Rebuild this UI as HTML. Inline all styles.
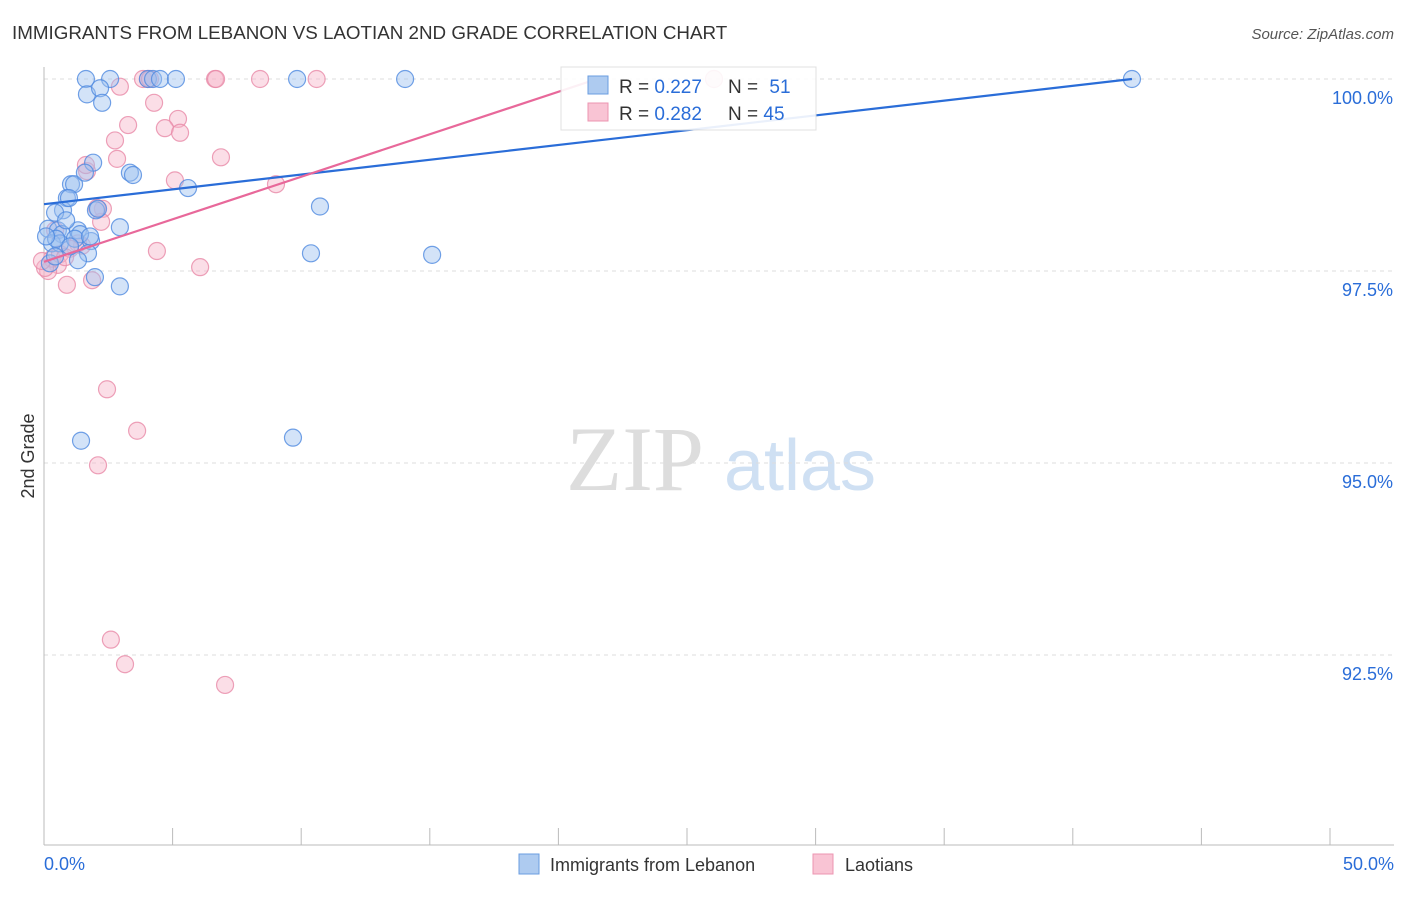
<!DOCTYPE html>
<html><head><meta charset="utf-8"><style>
body{margin:0;background:#fff;font-family:"Liberation Sans",sans-serif}
svg text{font-family:"Liberation Sans",sans-serif}
</style></head><body>
<svg width="1406" height="892">
<text x="12" y="39" font-size="18.8" fill="#333">IMMIGRANTS FROM LEBANON VS LAOTIAN 2ND GRADE CORRELATION CHART</text>
<text x="1394" y="39" font-size="15" fill="#555" text-anchor="end" font-style="italic">Source: ZipAtlas.com</text>
<g>
<text x="635" y="490" font-size="92" fill="#ddd" text-anchor="middle" font-family="Liberation Serif" style="font-family:'Liberation Serif',serif">ZIP</text>
<text x="800" y="490" font-size="72" fill="#cfe0f3" text-anchor="middle">atlas</text>
</g>
<g id="grid"></g>
<g id="axes"></g>
<g id="marks"></g>
<text transform="translate(34,456) rotate(-90)" font-size="18" fill="#333" text-anchor="middle">2nd Grade</text>
<g>
<rect x="561" y="67" width="255" height="63" fill="#fff" stroke="#ddd" opacity="0.9"/>
<rect x="588" y="76" width="20" height="18" fill="#aecbf0" stroke="#6a9de0"/>
<rect x="588" y="103" width="20" height="18" fill="#f9c4d4" stroke="#ec95b1"/>
<text x="619" y="93" font-size="19" fill="#333">R = <tspan fill="#2a6dd8">0.227</tspan></text>
<text x="728" y="93" font-size="19" fill="#333">N = <tspan fill="#2a6dd8" dx="6">51</tspan></text>
<text x="619" y="120" font-size="19" fill="#333">R = <tspan fill="#2a6dd8">0.282</tspan></text>
<text x="728" y="120" font-size="19" fill="#333">N = <tspan fill="#2a6dd8">45</tspan></text>
</g>
<g>
<rect x="519" y="854" width="20" height="20" fill="#aecbf0" stroke="#6a9de0"/>
<text x="550" y="871" font-size="18" fill="#333">Immigrants from Lebanon</text>
<rect x="813" y="854" width="20" height="20" fill="#f9c4d4" stroke="#ec95b1"/>
<text x="845" y="871" font-size="18" fill="#333">Laotians</text>
</g>
<text x="44" y="870" font-size="18" fill="#2a6dd8">0.0%</text>
<text x="1394" y="870" font-size="18" fill="#2a6dd8" text-anchor="end">50.0%</text>
</svg>
<script>
const blueX=[1.63,2.57,4.04,4.24,4.51,5.13,9.84,14.04,42.3,1.67,2.18,2.26,1.91,1.05,1.17,1.59,3.34,3.46,5.6,10.73,0.89,0.74,0.43,2.02,2.1,2.95,0.16,0.54,0.7,0.31,0.62,1.32,1.83,1.71,10.38,15.09,1.32,0.23,0.43,1.98,2.95,1.44,9.68,0.97,1.4,0.86,0.47,1.2,1.79,0.08,1.01];
const blueY=[100,100,100,100,100,100,100,100,100,99.8,99.88,99.69,98.91,98.63,98.63,98.78,98.78,98.75,98.58,98.34,98.45,98.29,98.26,98.29,98.31,98.07,98.05,98.03,97.98,97.86,97.86,98.03,97.89,97.73,97.73,97.71,97.64,97.60,97.69,97.42,97.30,95.29,95.33,98.45,97.98,98.16,97.92,97.92,97.95,97.95,97.82];
const pinkX=[3.85,4.04,4.12,6.65,6.69,8.4,10.6,26.05,2.95,4.28,5.21,4.7,5.29,3.27,2.76,2.84,6.88,1.67,1.63,5.09,9.02,2.29,2.22,1.48,1.32,4.39,6.07,1.87,0.89,0.54,0.16,0.31,0.62,0.04,2.45,3.62,2.1,2.6,3.15,7.04,1.01,2.06,0.43,0.82,-0.08];
const pinkY=[100,100,100,100,100,100,100,100,99.9,99.69,99.48,99.36,99.3,99.4,99.2,98.96,98.98,98.8,98.88,98.68,98.63,98.31,98.14,97.83,97.86,97.76,97.55,97.38,97.32,97.58,97.50,97.66,97.72,97.54,95.96,95.42,94.97,92.70,92.38,92.11,97.79,98.32,98.03,97.68,97.63];
const yTicks=[100,97.5,95,92.5];
const yLabels=["100.0%","97.5%","95.0%","92.5%"];
const blueTrend=[[0,98.37],[42.3,100]];
const pinkTrend=[[0,97.62],[21.5,100]];
const NS="http://www.w3.org/2000/svg";
const xs=v=>44+v/50*1286, ys=v=>79+(100-v)/2.5*192;
function mk(t,a,p){const e=document.createElementNS(NS,t);for(const k in a)e.setAttribute(k,a[k]);p.appendChild(e);return e;}
const grid=document.getElementById('grid'),axes=document.getElementById('axes'),marks=document.getElementById('marks');
yTicks.forEach((t,i)=>{
 const l=mk('line',{x1:44,x2:1394,y1:ys(t),y2:ys(t),stroke:'#ddd','stroke-dasharray':'4,4'},grid);
 
 
 const tx=mk('text',{x:1393,y:ys(t)+25,'font-size':18,fill:'#2a6dd8','text-anchor':'end'},axes);
 tx.textContent=yLabels[i];
 
 
});
const ya=mk('line',{x1:44,x2:44,y1:67,y2:845,stroke:'#bbb'},axes);


const xa=mk('line',{x1:44,x2:1394,y1:845,y2:845,stroke:'#bbb'},axes);


for(let i=0;i<=10;i++){const t=mk('line',{x1:xs(i*5),x2:xs(i*5),y1:828,y2:845,stroke:'#bbb'},axes);
 
 }
function pts(X,Y,fill,stroke,name){X.forEach((x,i)=>{const c=mk('circle',{cx:xs(x),cy:ys(Y[i]),r:8.5,fill:fill,'fill-opacity':0.45,stroke:stroke,'stroke-width':1.2,'stroke-opacity':0.8},marks);
 
 });}
pts(pinkX,pinkY,'#f7b6ca','#e88aa8','laotians-point');
pts(blueX,blueY,'#9dc1ef','#4f8ae0','lebanon-point');
const bl=mk('line',{x1:xs(blueTrend[0][0]),y1:ys(blueTrend[0][1]),x2:xs(blueTrend[1][0]),y2:ys(blueTrend[1][1]),stroke:'#2a6dd8','stroke-width':2.2},marks);


const pl=mk('line',{x1:xs(pinkTrend[0][0]),y1:ys(pinkTrend[0][1]),x2:xs(pinkTrend[1][0]),y2:ys(pinkTrend[1][1]),stroke:'#e8689a','stroke-width':2.2},marks);


</script>
</body></html>
